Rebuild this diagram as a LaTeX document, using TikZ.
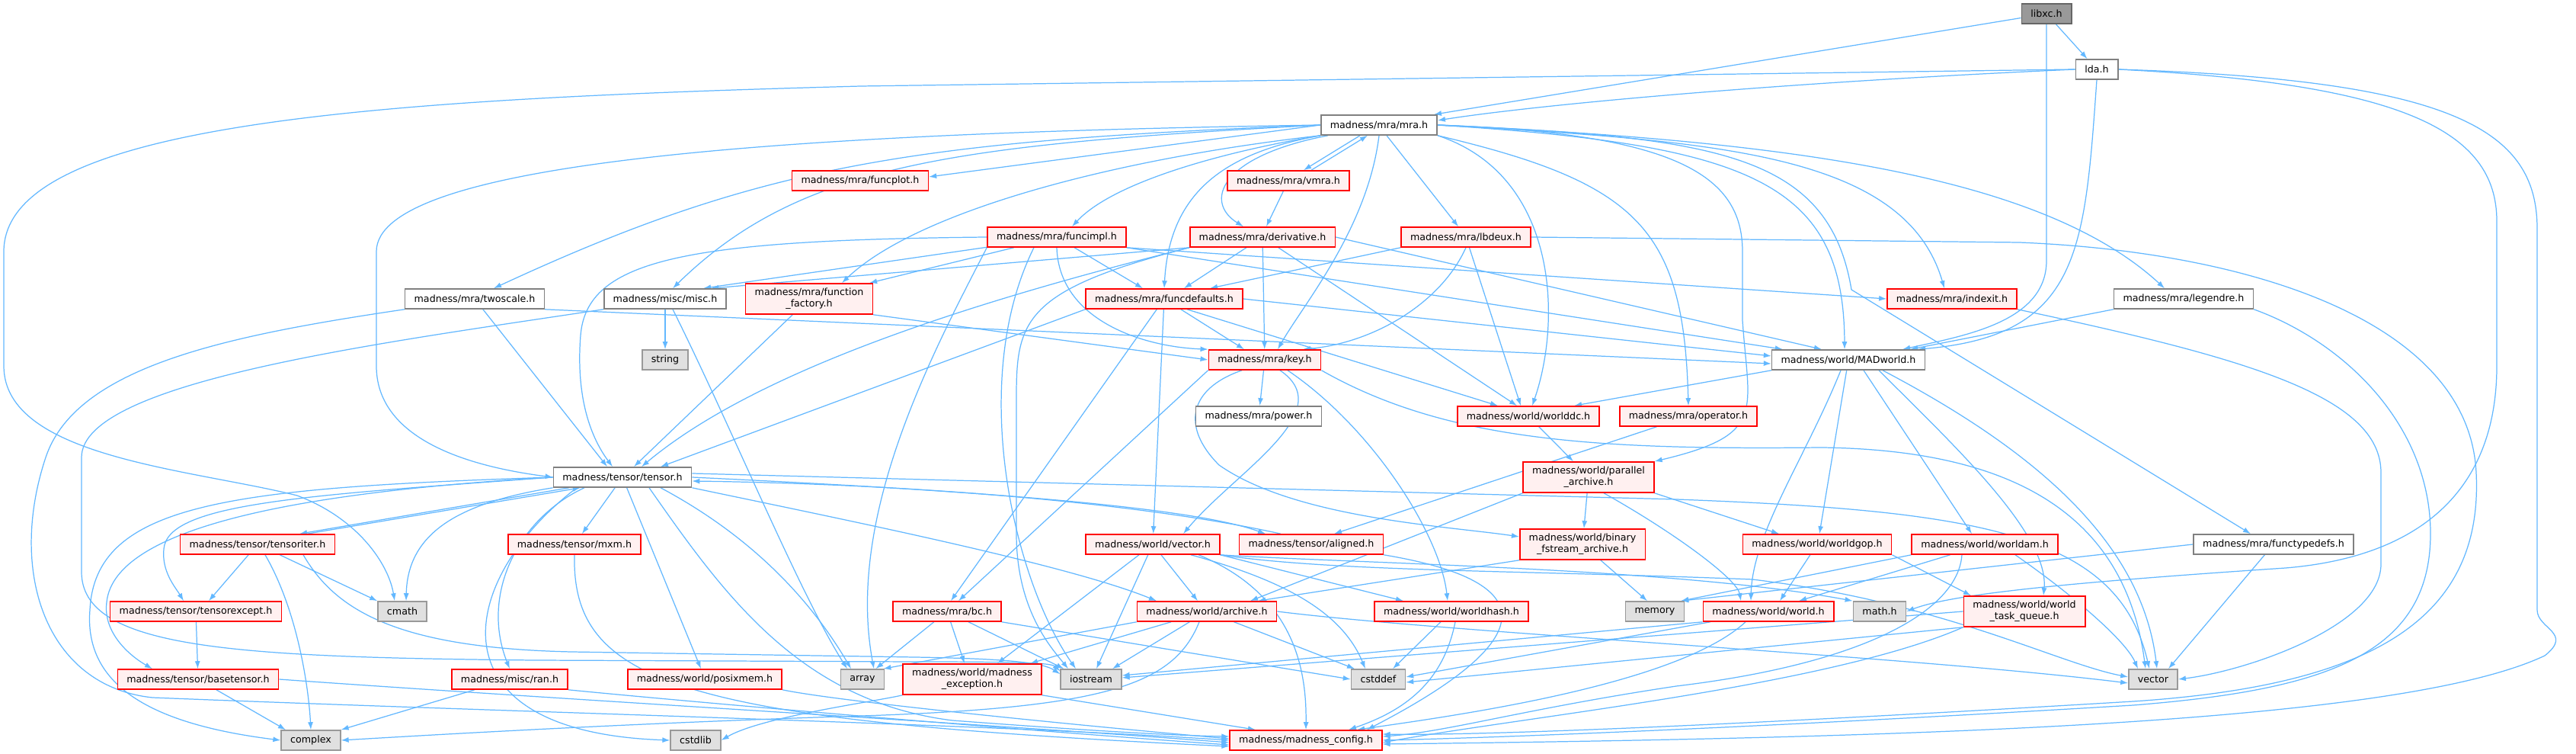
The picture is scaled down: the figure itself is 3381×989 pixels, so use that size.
\documentclass[tikz,border=0pt]{standalone}
\usepackage{fontspec}
\setmainfont{DejaVu Sans}
\usetikzlibrary{arrows.meta}
\definecolor{edgeblue}{HTML}{63B8FF}
\definecolor{truncfill}{HTML}{FFF0F0}
\definecolor{sysfill}{HTML}{E0E0E0}
\definecolor{sysline}{HTML}{999999}
\definecolor{hdrline}{HTML}{808080}
\definecolor{rootfill}{HTML}{999999}
\definecolor{rootline}{HTML}{666666}
\pgfdeclarelayer{paper}
\pgfdeclarelayer{edges}
\pgfsetlayers{paper,edges,main}
\begin{document}
\begin{tikzpicture}[x=0.01cm, y=-0.01cm,
    every node/.style={font=\fontsize{3.6pt}{4.3pt}\selectfont, inner xsep=0.12cm, inner ysep=0pt, minimum height=0.26cm, line width=0.45pt},
    hdr/.style={draw=hdrline, fill=white},
    trunc/.style={draw=red, fill=truncfill},
    sys/.style={draw=sysline, fill=sysfill},
    root/.style={draw=rootline, fill=rootfill},
    two/.style={align=center, minimum height=0.40cm},
    inc/.style={-{Latex[length=0.1cm, width=0.07cm]}, draw=edgeblue, line width=0.35pt}]
\begin{pgfonlayer}{paper}
\path[use as bounding box, fill=white] (0,0) rectangle (3381,989);
\end{pgfonlayer}
\node[root] (libxc) at (2686,18) {libxc.h};
\node[hdr] (lda) at (2752,91) {lda.h};
\node[hdr] (mra) at (1810,164) {madness/mra/mra.h};
\node[trunc] (funcplot) at (1129,237) {madness/mra/funcplot.h};
\node[trunc] (vmra) at (1691,237) {madness/mra/vmra.h};
\node[trunc] (funcimpl) at (1387,311) {madness/mra/funcimpl.h};
\node[trunc] (deriv) at (1657,311) {madness/mra/derivative.h};
\node[trunc] (lbdeux) at (1924,311) {madness/mra/lbdeux.h};
\node[hdr] (twoscale) at (623,392) {madness/mra/twoscale.h};
\node[hdr] (misc) at (873,392) {madness/misc/misc.h};
\node[trunc, two] (funcfact) at (1062,392) {madness/mra/function\\\_factory.h};
\node[trunc] (funcdef) at (1528,392) {madness/mra/funcdefaults.h};
\node[trunc] (indexit) at (2562,392) {madness/mra/indexit.h};
\node[hdr] (legendre) at (2866,392) {madness/mra/legendre.h};
\node[sys] (string) at (873,472) {string};
\node[trunc] (mkey) at (1660,472) {madness/mra/key.h};
\node[hdr] (madworld) at (2426,472) {madness/world/MADworld.h};
\node[hdr] (power) at (1652,546) {madness/mra/power.h};
\node[trunc] (worlddc) at (2006,546) {madness/world/worlddc.h};
\node[trunc] (operator) at (2216,546) {madness/mra/operator.h};
\node[hdr] (tensor) at (817,626) {madness/tensor/tensor.h};
\node[trunc, two] (parallel) at (2085,626) {madness/world/parallel\\\_archive.h};
\node[trunc] (tensoriter) at (338,714) {madness/tensor/tensoriter.h};
\node[trunc] (mxm) at (754,714) {madness/tensor/mxm.h};
\node[trunc] (wvector) at (1513,714) {madness/world/vector.h};
\node[trunc] (aligned) at (1721,714) {madness/tensor/aligned.h};
\node[trunc, two] (binary) at (2077,714) {madness/world/binary\\\_fstream\_archive.h};
\node[trunc] (worldgop) at (2385,714) {madness/world/worldgop.h};
\node[trunc] (worldam) at (2605,714) {madness/world/worldam.h};
\node[hdr] (functypedefs) at (2984,714) {madness/mra/functypedefs.h};
\node[trunc] (tensorexcept) at (257,802) {madness/tensor/tensorexcept.h};
\node[sys] (cmath) at (528,802) {cmath};
\node[trunc] (bc) at (1243,802) {madness/mra/bc.h};
\node[trunc] (archive) at (1584,802) {madness/world/archive.h};
\node[trunc] (worldhash) at (1905,802) {madness/world/worldhash.h};
\node[sys] (memory) at (2172,802) {memory};
\node[trunc] (world) at (2321,802) {madness/world/world.h};
\node[sys] (math) at (2467,802) {math.h};
\node[trunc, two] (taskq) at (2657,802) {madness/world/world\\\_task\_queue.h};
\node[trunc] (basetensor) at (260,891) {madness/tensor/basetensor.h};
\node[trunc] (ran) at (669,891) {madness/misc/ran.h};
\node[trunc] (posixmem) at (925,891) {madness/world/posixmem.h};
\node[sys] (array) at (1132,891) {array};
\node[trunc, two] (mexcept) at (1276,891) {madness/world/madness\\\_exception.h};
\node[sys] (iostream) at (1432,891) {iostream};
\node[sys] (cstddef) at (1809,891) {cstddef};
\node[sys] (vector) at (2826,891) {vector};
\node[sys] (complex) at (408,971) {complex};
\node[sys] (cstdlib) at (913,971) {cstdlib};
\node[trunc] (config) at (1714,971) {madness/madness\_config.h};
\begin{pgfonlayer}{edges}
% libxc.h and lda.h
\draw[inc] (libxc) -- ([xshift=-0.05cm]mra.north east);
\draw[inc] (libxc) -- (lda);
\draw[inc] (libxc.south) -- ++(0,310) .. controls +(0,80) and (2580,440) .. ([xshift=-0.3cm]madworld.north east);
\draw[inc] (lda.west) .. controls (2300,110) and (2000,140) .. ([yshift=0.06cm]mra.east);
\draw[inc] (lda.west) -- (1130,113) .. controls (500,130) and (5,160) .. (5,330) -- (5,480) .. controls (5,600) and (250,615) .. (390,650) .. controls (470,680) and (510,740) .. ([xshift=-0.1cm]cmath.north);
\draw[inc] (lda.south) .. controls (2736,330) and (2730,440) .. ([xshift=-0.1cm]madworld.north east);
\draw[inc] (lda.east) .. controls (3150,110) and (3277,170) .. (3277,290) -- (3277,480) .. controls (3277,640) and (3180,730) .. (3000,745) .. controls (2700,765) and (2560,780) .. (math.east);
\draw[inc] (lda.east) .. controls (3220,105) and (3330,170) .. (3330,300) -- (3330,800) .. controls (3330,825) and (3378,830) .. (3340,860) .. controls (3150,950) and (2500,968) .. ([yshift=-0.05cm]config.east);
% mra.h
\draw[inc] (mra.west) -- ([yshift=0.05cm]funcplot.east);
\draw[inc] ([xshift=-0.25cm]mra.south) -- ([xshift=0.2cm]vmra.north);
\draw[inc] ([xshift=0.3cm]vmra.north) -- ([xshift=-0.15cm]mra.south);
\draw[inc] (mra.south west) .. controls (1600,200) and (1460,240) .. ([xshift=0.2cm]funcimpl.north);
\draw[inc] ([xshift=0.1cm]mra.south west) .. controls (1600,205) and (1580,265) .. ([xshift=-0.25cm]deriv.north);
\draw[inc] (vmra) -- ([xshift=0.05cm]deriv.north);
\draw[inc] ([xshift=0.1cm]mra.south) -- ([xshift=-0.1cm]lbdeux.north);
\draw[inc] (mra.west) .. controls (1200,185) and (1000,215) .. ([xshift=0.25cm]twoscale.north);
\draw[inc] (mra.west) .. controls (1250,190) and (1050,215) .. ([xshift=0.1cm]misc.north);
\draw[inc] (mra.south west) .. controls (1450,210) and (1200,280) .. ([xshift=0.43cm]funcfact.north);
\draw[inc] (mra.west) .. controls (1000,175) and (494,215) .. (494,330) -- (494,480) .. controls (494,570) and (600,610) .. (tensor.west);
\draw[inc] (mra.south west) .. controls (1610,200) and (1535,250) .. (funcdef.north);
\draw[inc] (mra.south) .. controls (1795,300) and (1710,400) .. ([xshift=0.17cm]mkey.north);
\draw[inc] (mra.east) .. controls (2250,185) and (2500,200) .. ([xshift=-0.1cm]indexit.north);
\draw[inc] (mra.east) .. controls (2350,185) and (2680,230) .. ([xshift=-0.25cm]legendre.north);
\draw[inc] (mra.east) .. controls (2300,190) and (2420,240) .. ([xshift=-0.05cm]madworld.north);
\draw[inc] (mra.south east) .. controls (2045,230) and (2050,420) .. ([xshift=0.05cm]worlddc.north);
\draw[inc] (mra.south east) .. controls (2150,240) and (2210,300) .. (operator.north);
\draw[inc] (mra.east) .. controls (2200,175) and (2287,230) .. (2287,330) -- (2287,420) .. controls (2295,540) and (2320,570) .. (parallel.north east);
\draw[inc] (mra.east) .. controls (2250,180) and (2400,200) .. (2430,380) -- ([xshift=-0.3cm]functypedefs.north);
% funcimpl.h
\draw[inc] (funcimpl.west) .. controls (900,315) and (770,340) .. (762,440) .. controls (755,530) and (780,580) .. ([xshift=-0.13cm]tensor.north);
\draw[inc] (funcimpl) -- ([xshift=0.5cm]misc.north);
\draw[inc] (funcimpl) -- ([xshift=-0.05cm]funcfact.north east);
\draw[inc] (funcimpl) -- ([xshift=-0.28cm]funcdef.north);
\draw[inc] (funcimpl.south) .. controls (1390,420) and (1500,455) .. (mkey.north west);
\draw[inc] (funcimpl.south east) -- ([xshift=0.15cm]madworld.north west);
\draw[inc] (funcimpl.south east) -- (indexit.west);
\draw[inc] (funcimpl.south west) .. controls (1220,470) and (1110,680) .. ([xshift=0.15cm]array.north);
\draw[inc] ([xshift=-0.3cm]funcimpl.south) .. controls (1270,500) and (1330,760) .. ([xshift=-0.2cm]iostream.north);
% derivative.h
\draw[inc] (deriv.south west) -- ([xshift=0.6cm]misc.north);
\draw[inc] (deriv) -- ([xshift=0.26cm]funcdef.north);
\draw[inc] (deriv) -- (mkey);
\draw[inc] (deriv) -- ([xshift=-0.15cm]worlddc.north);
\draw[inc] (deriv.south west) .. controls (1300,390) and (1000,480) .. ([xshift=0.25cm]tensor.north);
\draw[inc] (deriv.south west) .. controls (1345,380) and (1334,420) .. (1334,520) -- (1334,700) .. controls (1334,800) and (1380,850) .. ([xshift=-0.3cm]iostream.north);
\draw[inc] (deriv.east) -- ([xshift=-0.35cm]madworld.north);
% lbdeux.h
\draw[inc] (lbdeux.south west) -- ([xshift=0.6cm]funcdef.north);
\draw[inc] (lbdeux.south) .. controls (1890,400) and (1800,450) .. ([xshift=0.5cm]mkey.north);
\draw[inc] (lbdeux) -- ([xshift=-0.1cm]worlddc.north);
\draw[inc] (lbdeux.east) -- (2650,318) .. controls (2950,330) and (3240,420) .. (3250,620) .. controls (3260,820) and (3100,900) .. (2800,920) .. controls (2300,950) and (1950,965) .. ([yshift=0.08cm]config.east);
% twoscale.h, misc.h, function_factory.h
\draw[inc] (twoscale) -- ([xshift=-0.2cm]tensor.north);
\draw[inc] (twoscale.south east) -- ([yshift=-0.05cm]madworld.west);
\draw[inc] (twoscale.south west) .. controls (300,440) and (100,480) .. (60,600) .. controls (10,750) and (60,900) .. (200,915) .. controls (700,935) and (1300,950) .. (config.west);
\draw[inc] (misc) -- (string);
\draw[inc] (misc.south west) .. controls (500,450) and (107,500) .. (107,600) -- (107,750) .. controls (107,850) and (300,862) .. (700,866) -- (1200,868) .. controls (1350,868) and (1380,870) .. ([yshift=-0.03cm]iostream.north west);
\draw[inc] ([xshift=0.1cm]misc.south) .. controls (960,560) and (1050,780) .. ([xshift=-0.2cm]array.north);
\draw[inc] (funcfact) -- ([xshift=0.15cm]tensor.north);
\draw[inc] (funcfact.south east) -- (mkey.west);
% funcdefaults.h and key.h
\draw[inc] (funcdef.south west) -- ([xshift=0.5cm]tensor.north);
\draw[inc] (funcdef) -- ([xshift=0.05cm]bc.north);
\draw[inc] (funcdef) -- (wvector);
\draw[inc] (funcdef) -- ([xshift=-0.27cm]mkey.north);
\draw[inc] ([xshift=0.3cm]funcdef.south) -- ([xshift=-0.4cm]worlddc.north);
\draw[inc] (funcdef.east) -- ([yshift=0.05cm]madworld.west);
\draw[inc] (mkey) -- (power);
\draw[inc] (mkey.south west) -- ([xshift=0.15cm]bc.north);
\draw[inc] ([xshift=0.2cm]mkey.south) .. controls (1760,540) and (1620,620) .. ([xshift=0.4cm]wvector.north);
\draw[inc] ([xshift=-0.3cm]mkey.south) .. controls (1560,510) and (1550,560) .. (1600,610) .. controls (1700,680) and (1900,690) .. ([yshift=0.1cm]binary.west);
\draw[inc] ([xshift=0.3cm]mkey.south) .. controls (1800,560) and (1890,700) .. ([xshift=-0.05cm]worldhash.north);
\draw[inc] (mkey.south east) .. controls (1900,580) and (2100,590) .. (2390,587) .. controls (2650,590) and (2790,680) .. ([xshift=-0.1cm]vector.north);
% world side
\draw[inc] (worlddc) -- ([xshift=-0.2cm]parallel.north);
\draw[inc] (operator) -- ([xshift=0.3cm]aligned.north);
\draw[inc] (parallel) -- (binary);
\draw[inc] (parallel.south west) -- ([xshift=0.57cm]archive.north);
\draw[inc] (parallel.south east) -- ([xshift=-0.5cm]worldgop.north);
\draw[inc] ([xshift=0.2cm]parallel.south) .. controls (2200,700) and (2280,760) .. ([xshift=-0.36cm]world.north);
\draw[inc] (binary.south west) -- ([xshift=0.67cm]archive.north);
\draw[inc] (binary) -- ([xshift=-0.1cm]memory.north);
\draw[inc] (madworld.south west) -- ([xshift=0.6cm]worlddc.north);
\draw[inc] ([xshift=-0.1cm]madworld.south) .. controls (2370,600) and (2300,700) .. ([xshift=-0.23cm]world.north);
\draw[inc] (madworld) -- ([xshift=0.03cm]worldgop.north);
\draw[inc] ([xshift=0.2cm]madworld.south) -- ([xshift=-0.17cm]worldam.north);
\draw[inc] ([xshift=0.4cm]madworld.south) .. controls (2560,580) and (2690,700) .. ([xshift=0.25cm]taskq.north);
\draw[inc] ([xshift=0.45cm]madworld.south) .. controls (2650,580) and (2810,700) .. ([xshift=0.05cm]vector.north);
\draw[inc] (worldgop) -- ([xshift=0.15cm]world.north);
\draw[inc] (worldgop.south east) -- ([xshift=-0.7cm]taskq.north);
\draw[inc] (worldam.south west) -- ([xshift=-0.05cm]memory.north east);
\draw[inc] (worldam) -- ([xshift=0.4cm]world.north);
\draw[inc] ([xshift=0.4cm]worldam.south) .. controls (2720,780) and (2790,840) .. ([xshift=-0.2cm]vector.north);
\draw[inc] ([xshift=-0.3cm]worldam.south) .. controls (2570,800) and (2450,870) .. (2200,900) .. controls (2000,930) and (1900,960) .. ([yshift=0.05cm]config.east);
\draw[inc] (world.south west) -- ([yshift=0.05cm]iostream.east);
\draw[inc] (world) -- ([yshift=0.03cm]cstddef.east);
\draw[inc] ([xshift=-0.3cm]world.south) .. controls (2200,900) and (1900,940) .. ([xshift=0.67cm]config.north);
\draw[inc] (taskq.west) -- ([yshift=0.02cm]iostream.east);
\draw[inc] (taskq.south west) -- ([yshift=-0.04cm]cstddef.east);
\draw[inc] (taskq.south west) .. controls (2400,900) and (2000,940) .. ([yshift=-0.03cm]config.east);
\draw[inc] (functypedefs.west) -- ([xshift=-0.05cm]memory.north east);
\draw[inc] (functypedefs) -- ([xshift=0.2cm]vector.north);
\draw[inc] (indexit.south east) .. controls (2950,470) and (3125,520) .. (3125,620) -- (3125,740) .. controls (3125,820) and (2950,880) .. (vector.east);
\draw[inc] (legendre.south west) -- ([xshift=-0.2cm]madworld.north east);
\draw[inc] (legendre.south east) .. controls (3080,450) and (3190,560) .. (3190,700) .. controls (3190,860) and (3050,905) .. (2800,925) .. controls (2300,955) and (1950,968) .. (config.east);
% world/vector.h, archive.h and below
\draw[inc] (wvector) -- ([xshift=-0.12cm]archive.north);
\draw[inc] (wvector) -- ([xshift=0.07cm]iostream.north);
\draw[inc] (wvector) -- ([xshift=0.33cm]mexcept.north);
\draw[inc] (wvector.south east) -- ([xshift=-0.63cm]worldhash.north);
\draw[inc] ([xshift=0.5cm]wvector.south) .. controls (1680,760) and (1760,800) .. ([xshift=-0.17cm]cstddef.north);
\draw[inc] ([xshift=0.6cm]wvector.south) .. controls (1700,780) and (1715,880) .. (config.north);
\draw[inc] (wvector.south east) .. controls (1750,750) and (2000,748) .. (2300,760) .. controls (2550,790) and (2700,870) .. ([yshift=0.03cm]vector.west);
\draw[inc] (wvector.south east) .. controls (1800,740) and (2200,745) .. (math.north west);
\draw[inc] (archive.south west) -- ([xshift=-0.02cm]array.north east);
\draw[inc] (archive) -- ([xshift=0.76cm]mexcept.north);
\draw[inc] (archive) -- ([xshift=0.28cm]iostream.north);
\draw[inc] (archive) -- ([xshift=-0.31cm]cstddef.north);
\draw[inc] ([xshift=-0.1cm]archive.south) .. controls (1540,900) and (1450,930) .. (1100,940) .. controls (800,950) and (550,965) .. (complex.east);
\draw[inc] (archive.east) .. controls (1900,830) and (2500,860) .. ([yshift=-0.05cm]vector.west);
\draw[inc] (bc) -- ([xshift=-0.12cm]array.north east);
\draw[inc] (bc) -- ([xshift=-0.1cm]mexcept.north);
\draw[inc] (bc) -- ([xshift=0.05cm]iostream.north west);
\draw[inc] (bc.south east) -- (cstddef.west);
\draw[inc] (worldhash) -- ([xshift=0.19cm]cstddef.north);
\draw[inc] ([xshift=0.05cm]worldhash.south) .. controls (1895,890) and (1850,930) .. ([xshift=0.56cm]config.north);
\draw[inc] (mexcept.south west) .. controls (1150,920) and (1000,940) .. (cstdlib.east);
\draw[inc] (mexcept.south east) -- ([xshift=-0.66cm]config.north);
\draw[inc] (aligned.south east) .. controls (2010,760) and (2040,830) .. ([xshift=0.8cm]config.north);
% tensor.h
\draw[inc] ([xshift=-0.7cm]tensor.south) -- ([xshift=0.55cm]tensoriter.north);
\draw[inc] ([xshift=0.65cm]tensoriter.north) -- ([xshift=-0.55cm]tensor.south);
\draw[inc] (tensor) -- (mxm);
\draw[inc] (tensor.west) .. controls (400,650) and (220,660) .. (215,720) .. controls (212,750) and (230,770) .. ([xshift=-0.16cm]tensorexcept.north);
\draw[inc] (tensor.south west) .. controls (600,660) and (535,700) .. ([xshift=0.05cm]cmath.north);
\draw[inc] (tensor.west) .. controls (400,645) and (150,690) .. (140,790) .. controls (135,830) and (170,860) .. ([xshift=-0.6cm]basetensor.north);
\draw[inc] (tensor.west) .. controls (300,640) and (125,660) .. (118,800) .. controls (110,900) and (200,950) .. (complex.west);
\draw[inc] ([xshift=-0.5cm]tensor.south) .. controls (680,680) and (630,780) .. (ran.north);
\draw[inc] ([xshift=-0.6cm]tensor.south) .. controls (600,760) and (560,960) .. (cstdlib.west);
\draw[inc] (tensor) -- ([xshift=-0.05cm]posixmem.north);
\draw[inc] ([xshift=0.5cm]tensor.south) .. controls (980,700) and (1060,780) .. ([xshift=-0.15cm]array.north);
\draw[inc] ([xshift=0.35cm]tensor.south) .. controls (950,780) and (1050,920) .. (1250,945) .. controls (1450,960) and (1550,965) .. ([yshift=0.05cm]config.west);
\draw[inc] (tensor.south east) .. controls (1100,680) and (1400,740) .. ([xshift=-0.66cm]archive.north);
\draw[inc] (tensor.east) .. controls (1200,640) and (1550,660) .. ([xshift=-0.6cm]aligned.north);
\draw[inc] ([xshift=-0.4cm]aligned.north) .. controls (1500,660) and (1200,635) .. ([yshift=-0.05cm]tensor.east);
\draw[inc] ([yshift=0.05cm]tensor.east) -- (2200,655) .. controls (2600,670) and (2780,700) .. ([xshift=-0.05cm]vector.north);
% tensor family
\draw[inc] (tensoriter) -- ([xshift=0.17cm]tensorexcept.north);
\draw[inc] (tensoriter) -- (cmath.north west);
\draw[inc] ([xshift=0.1cm]tensoriter.south) .. controls (390,800) and (405,900) .. (complex.north);
\draw[inc] ([xshift=0.6cm]tensoriter.south) .. controls (440,800) and (520,850) .. (750,855) -- (1200,862) .. controls (1330,864) and (1370,870) .. ([yshift=-0.07cm]iostream.north west);
\draw[inc] (tensorexcept) -- (basetensor);
\draw[inc] (basetensor) -- ([xshift=-0.33cm]complex.north);
\draw[inc] (basetensor.east) .. controls (700,915) and (1300,950) .. ([yshift=-0.03cm]config.west);
\draw[inc] (ran) -- (complex.north east);
\draw[inc] (ran.south east) .. controls (900,920) and (1300,955) .. ([yshift=-0.06cm]config.west);
\draw[inc] (posixmem.south east) .. controls (1100,920) and (1400,950) .. ([yshift=0.02cm]config.west);
\draw[inc] (mxm.south) .. controls (750,900) and (900,945) .. ([yshift=-0.08cm]config.west);
\end{pgfonlayer}
\end{tikzpicture}
\end{document}
